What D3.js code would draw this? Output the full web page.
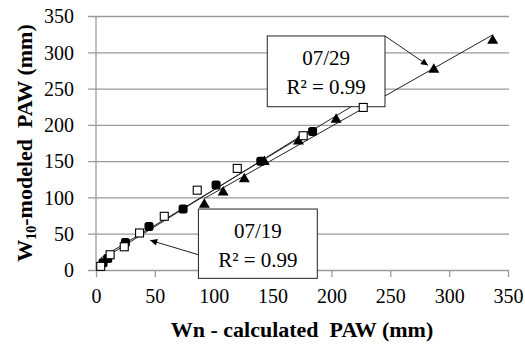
<!DOCTYPE html>
<html>
<head>
<meta charset="utf-8">
<script src="https://cdn.jsdelivr.net/npm/d3@7"></script>
<style>
  body { margin: 0; background: #fff; }
</style>
</head>
<body>
<script>
// open squares
const openX = [4, 12, 24, 37, 58, 86, 120, 176, 227];
const openY = [5, 21, 32, 51, 74, 110, 140, 185, 224];
// filled squares
const fillX = [6, 10, 25, 45, 74, 102, 140, 184];
const fillY = [10, 16, 38, 60, 84, 117, 150, 191];
// triangles
const triX = [92, 108, 126, 143, 172, 204, 287, 337];
const triY = [92, 109, 127, 151, 179, 209, 278, 318];

const ticks = [0, 50, 100, 150, 200, 250, 300, 350];

// callout boxes (data units): box corners, arrow start and tip
const notes = [
  {date: "07/29", r2: "0.99", x0: 145.5, y0: 322.5, x1: 245.5, y1: 225, ax: 245.5, ay: 322.5, tx: 282, ty: 282},
  {date: "07/19", r2: "0.99", x0: 87, y0: 84, x1: 188, y1: -11.5, ax: 87, ay: 21, tx: 46, ty: 41}
];

const serif = "'Liberation Serif', 'Times New Roman', serif";

const margin = {top: 16, right: 17, bottom: 74, left: 96},
    width = 525 - margin.left - margin.right,
    height = 344 - margin.top - margin.bottom;

const x = d3.scaleLinear().domain([0, 350]).range([0, width]);
const y = d3.scaleLinear().domain([0, 350]).range([height, 0]);

const svg = d3.select("body").append("svg")
    .attr("width", 525)
    .attr("height", 344)
    .attr("font-family", serif);

svg.append("defs").append("marker")
    .attr("id", "arrow")
    .attr("viewBox", "0 0 10 10")
    .attr("refX", 10).attr("refY", 5)
    .attr("markerWidth", 9).attr("markerHeight", 7)
    .attr("markerUnits", "userSpaceOnUse")
    .attr("orient", "auto")
    .append("path")
    .attr("d", "M0,0L10,5L0,10z")
    .attr("fill", "#000");

const g = svg.append("g")
    .attr("transform", "translate(" + margin.left + "," + margin.top + ")");

// gridlines + y ticks
g.append("g")
    .call(d3.axisLeft(y).tickValues(ticks).tickSize(-width - 8).tickFormat(d3.format("d")))
    .attr("font-family", serif)
    .call(a => a.select(".domain").remove())
    .call(a => a.selectAll(".tick line").attr("x1", -8).attr("x2", width + 1)
        .attr("stroke", "#9a9a9a").attr("stroke-width", 1.3))
    .call(a => a.selectAll(".tick text").attr("x", -22).attr("dy", "0.34em")
        .attr("font-family", serif).attr("font-size", 20).attr("fill", "#000"));

// y axis line
g.append("line")
    .attr("x1", 0).attr("x2", 0).attr("y1", 0).attr("y2", height)
    .attr("stroke", "#9a9a9a").attr("stroke-width", 1.3);

// x ticks
g.append("g")
    .attr("transform", "translate(0," + height + ")")
    .call(d3.axisBottom(x).tickValues(ticks).tickSize(7).tickFormat(d3.format("d")))
    .attr("font-family", serif)
    .call(a => a.select(".domain").remove())
    .call(a => a.selectAll(".tick line").attr("stroke", "#9a9a9a").attr("stroke-width", 1.3))
    .call(a => a.selectAll(".tick text").attr("y", 19).attr("dy", "0.71em")
        .attr("font-family", serif).attr("font-size", 20).attr("fill", "#000"));

// linear trendlines over each series range
function fit(xs, ys) {
  const mx = d3.mean(xs), my = d3.mean(ys);
  const b = d3.sum(xs, (v, i) => (v - mx) * (ys[i] - my)) / d3.sum(xs, v => (v - mx) * (v - mx));
  const a = my - b * mx;
  const [lo, hi] = d3.extent(xs);
  return [[lo, a + b * lo], [hi, a + b * hi]];
}
const line = d3.line().x(d => x(d[0])).y(d => y(d[1]));
[[openX, openY], [fillX, fillY], [triX, triY]].forEach(s => {
  g.append("path")
      .attr("d", line(fit(s[0], s[1])))
      .attr("fill", "none")
      .attr("stroke", "#222")
      .attr("stroke-width", 1);
});

// callout boxes with arrows
notes.forEach(n => {
  g.append("line")
      .attr("x1", x(n.ax)).attr("y1", y(n.ay))
      .attr("x2", x(n.tx)).attr("y2", y(n.ty))
      .attr("stroke", "#222").attr("stroke-width", 1)
      .attr("marker-end", "url(#arrow)");
  g.append("rect")
      .attr("x", x(n.x0)).attr("y", y(n.y0))
      .attr("width", x(n.x1) - x(n.x0)).attr("height", y(n.y1) - y(n.y0))
      .attr("fill", "#fff").attr("stroke", "#222").attr("stroke-width", 1);
  const cx = (x(n.x0) + x(n.x1)) / 2;
  g.append("text")
      .attr("x", cx).attr("y", y(n.y0) + 29)
      .attr("text-anchor", "middle").attr("font-size", 21)
      .text(n.date);
  g.append("text")
      .attr("x", cx).attr("y", y(n.y0) + 58)
      .attr("text-anchor", "middle").attr("font-size", 21)
      .text("R\u00b2 = " + n.r2);
});

// markers
const open = openX.map((v, i) => [v, openY[i]]);
const fill = fillX.map((v, i) => [v, fillY[i]]);
const tri = triX.map((v, i) => [v, triY[i]]);

g.selectAll(".fill").data(fill).enter().append("rect")
    .attr("x", d => x(d[0]) - 4.5).attr("y", d => y(d[1]) - 4.5)
    .attr("width", 9).attr("height", 9).attr("rx", 2.5)
    .attr("fill", "#000");

g.selectAll(".tri").data(tri).enter().append("path")
    .attr("d", d => "M" + x(d[0]) + "," + (y(d[1]) - 5) + "l5.5,9.5h-11z")
    .attr("fill", "#000");

g.selectAll(".open").data(open).enter().append("rect")
    .attr("x", d => x(d[0]) - 4).attr("y", d => y(d[1]) - 4)
    .attr("width", 8).attr("height", 8)
    .attr("fill", "#fff").attr("stroke", "#000").attr("stroke-width", 1.1);

// axis titles
svg.append("text")
    .attr("x", margin.left + width / 2).attr("y", 337)
    .attr("text-anchor", "middle")
    .attr("font-size", 22).attr("font-weight", "bold")
    .text("Wn - calculated\u00a0 PAW (mm)");

const yt = svg.append("text")
    .attr("transform", "translate(32," + (margin.top + height / 2) + ") rotate(-90)")
    .attr("text-anchor", "middle")
    .attr("font-size", 22).attr("font-weight", "bold");
yt.append("tspan").text("W");
yt.append("tspan").attr("font-size", 14).attr("dy", 4).text("10");
yt.append("tspan").attr("dy", -4).text("-modeled\u00a0 PAW (mm)");
</script>
</body>
</html>
